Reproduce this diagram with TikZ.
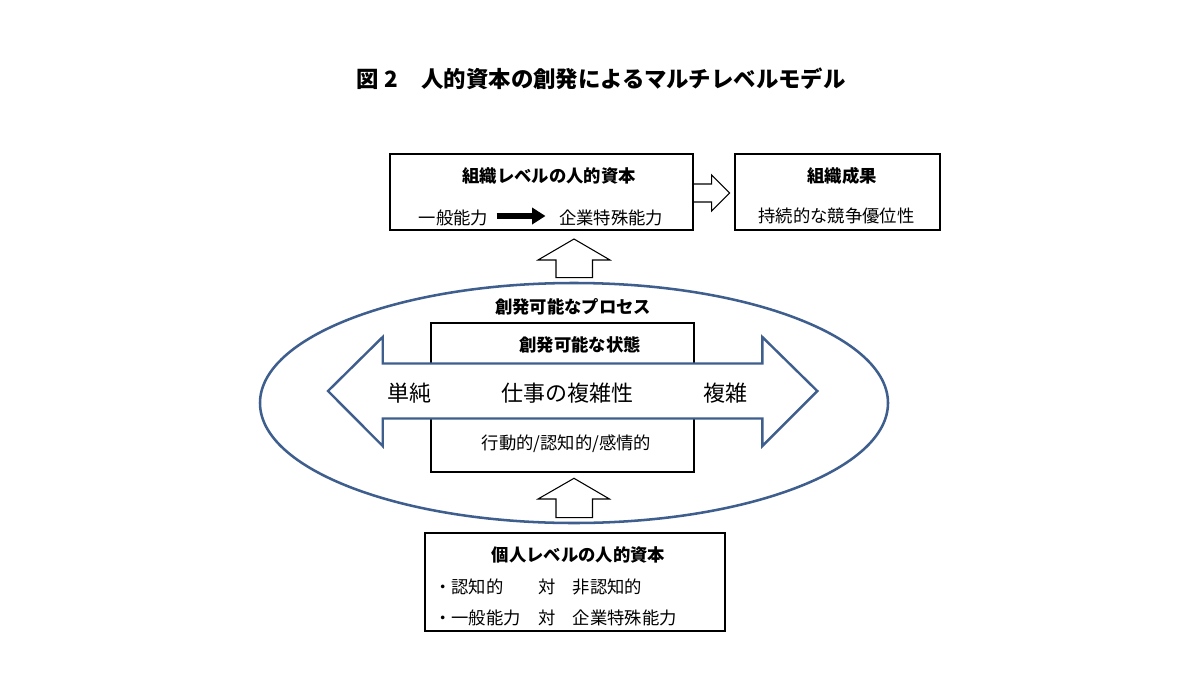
\documentclass[tikz,border=0pt]{standalone}
\usepackage{fontspec}
\setmainfont{Noto Sans CJK JP}
\usetikzlibrary{arrows.meta,shapes.geometric}
\definecolor{ebl}{HTML}{3E5E8E}
\begin{document}
\begin{tikzpicture}[x=0.75pt,y=-0.75pt,
  box/.style={draw=black, line width=1.5pt, fill=white, inner sep=0pt},
  hollow/.style={draw=black, line width=0.8pt, fill=white, line join=miter},
  bigarrow/.style={draw=ebl, line width=1.8pt, fill=white, line join=miter},
  txt/.style={inner sep=0pt, font=\fontsize{13pt}{15pt}\selectfont},
  btxt/.style={inner sep=0pt, font=\fontsize{13pt}{15pt}\selectfont\bfseries},
  mtxt/.style={inner sep=0pt, font=\fontsize{16.5pt}{19pt}\selectfont},
]
\useasboundingbox (0,0) rectangle (1200,675);
\fill[white] (0,0) rectangle (1200,675);

% title
\node[inner sep=0pt, font=\fontsize{16.8pt}{20pt}\selectfont\bfseries] (title) at (601,79)
  {図\hspace{0.25em}2\hspace{1.05em}人的資本の創発によるマルチレベルモデル};

% top boxes
\node[box, minimum width=227.25pt, minimum height=57pt] (orgcap) at (541.5,192) {};
\node[box, minimum width=154.1pt, minimum height=57pt] (orgres) at (837.75,192) {};

\node[btxt] (orgcapT) at (549,176) {組織レベルの人的資本};
\node[txt] (gen) at (453.5,218) {一般能力};
\node[txt] (spec) at (611,218) {企業特殊能力};
\draw[line width=4pt, -{Triangle[length=10pt,width=12pt]}] (496.5,216) -- (545.5,216);
\node[btxt] (orgresT) at (842,176) {組織成果};
\node[txt] (orgresB) at (836.5,216) {持続的な競争優位性};

% hollow arrow between top boxes
\draw[hollow] (orgcap.east |- 0,184) -- (711.7,184) -- (711.7,175) -- (729.5,193)
  -- (711.7,211) -- (711.7,202) -- (orgcap.east |- 0,202);

% up arrow to top box
\draw[hollow] (556,277.7) -- (556,260) -- (538,260) -- (574,239) -- (610,260)
  -- (592.5,260) -- (592.5,277.7) -- cycle;

% ellipse
\node[ellipse, draw=ebl, line width=1.9pt, fill=white, inner sep=0pt,
  minimum width=471pt, minimum height=180pt] (proc) at (574,403) {};
\node[btxt] (procT) at (573,307) {創発可能なプロセス};

% inner rectangle
\node[box, minimum width=197.25pt, minimum height=111.4pt] (state) at (562.5,397.25) {};
\node[btxt] (stateT) at (580,345) {創発可能な状態};
\node[txt] (stateB) at (566.5,444) {行動的/認知的/感情的};

% double arrow
\draw[bigarrow] (328,391) -- (382.7,337) -- (382.7,363.5) -- (762.3,363.5) -- (762.3,337)
  -- (817.3,391) -- (762.3,446) -- (762.3,418.5) -- (382.7,418.5) -- (382.7,446) -- cycle;
\node[mtxt] (simple) at (409.5,393) {単純};
\node[mtxt] (cx) at (567,393) {仕事の複雑性};
\node[mtxt] (complex) at (725,393) {複雑};

% up arrow from bottom box
\draw[hollow] (556,517.7) -- (556,499) -- (538,499) -- (574,478.3) -- (609.5,499)
  -- (592.5,499) -- (592.5,517.7) -- cycle;

% bottom box
\node[box, minimum width=225pt, minimum height=73.5pt] (indiv) at (574.5,582) {};
\node[btxt] (indivT) at (578.5,555) {個人レベルの人的資本};
\node[txt, anchor=west] (l1) at (434,586.5) {・認知的　　対　非認知的};
\node[txt, anchor=west] (l2) at (434,617.5) {・一般能力　対　企業特殊能力};
\end{tikzpicture}
\end{document}
